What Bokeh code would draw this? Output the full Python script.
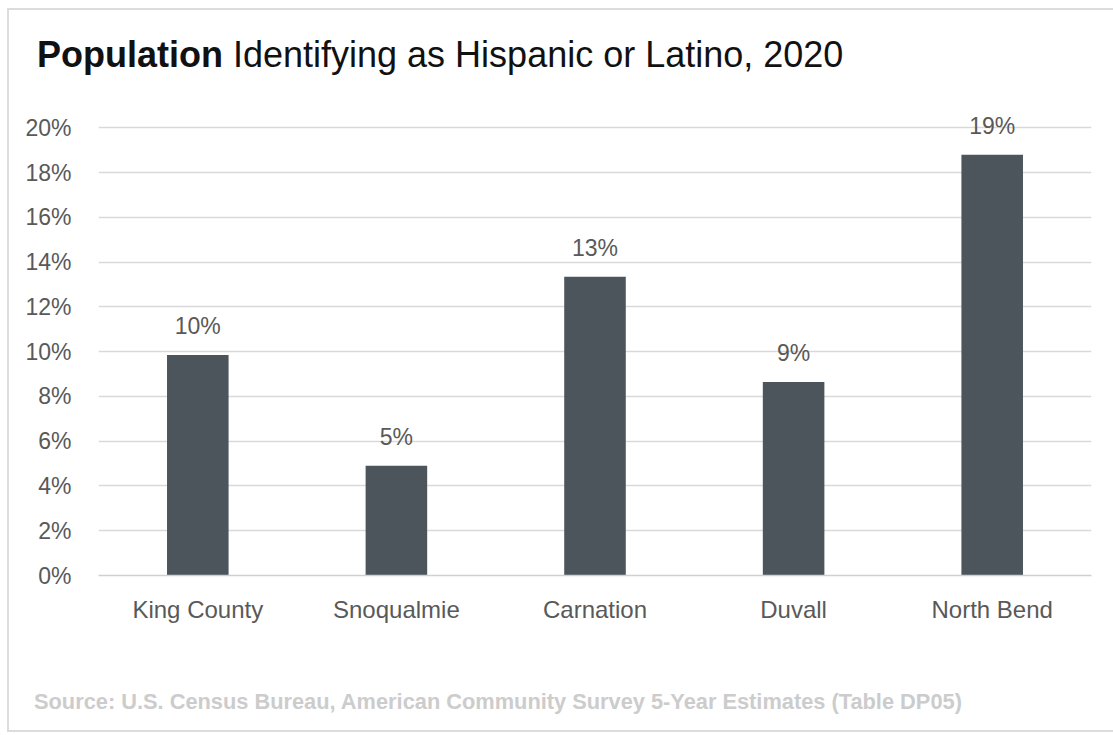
from bokeh.plotting import figure
from bokeh.models import ColumnDataSource, LabelSet, Range1d, FixedTicker, CustomJSTickFormatter, Div
from bokeh.layouts import column
from bokeh.core.properties import value
from bokeh.embed import file_html
from bokeh.resources import INLINE

categories = ["King County", "Snoqualmie", "Carnation", "Duvall", "North Bend"]
values = [9.85, 4.9, 13.35, 8.65, 18.8]
labels = [f"{round(v)}%" for v in values]
y_ticks = [0, 2, 4, 6, 8, 10, 12, 14, 16, 18, 20]
title_bold = "Population"
title_rest = "Identifying as Hispanic or Latino, 2020"
source_text = "Source: U.S. Census Bureau, American Community Survey 5-Year Estimates (Table DP05)"

FONT = "Liberation Sans"
INNER_W = 1095

src = ColumnDataSource(dict(cat=categories, val=values, lab=labels))

title_div = Div(
    text=f'<div style="font-family:\'{FONT}\'; font-size:36px; line-height:40px; color:#111111; '
         f'padding-top:20px; padding-left:23px; white-space:nowrap;">'
         f'<b>{title_bold}</b> {title_rest}</div>',
    width=INNER_W, height=80)

p = figure(x_range=categories, y_range=Range1d(0, 21), width=INNER_W, height=550,
           output_backend="svg", toolbar_location=None,
           min_border_left=89, min_border_right=13, min_border_top=5, min_border_bottom=75)
p.x_range.range_padding = 0
p.background_fill_color = "white"
p.border_fill_color = "white"
p.outline_line_color = None

p.vbar(x="cat", top="val", width=0.31, source=src, fill_color="#4b555b", line_color=None)

p.add_layout(LabelSet(x="cat", y="val", text="lab", source=src, y_offset=21,
                      text_align="center", text_baseline="alphabetic",
                      text_font=value(FONT), text_font_size="23px", text_color="#595959"))

p.xgrid.grid_line_color = None
p.ygrid.grid_line_color = "#d9d9d9"
p.ygrid.grid_line_width = 1.5
p.yaxis.ticker = FixedTicker(ticks=y_ticks)
p.yaxis.formatter = CustomJSTickFormatter(code="return tick + '%';")
p.yaxis.axis_line_color = None
p.yaxis.major_tick_line_color = None
p.yaxis.minor_tick_line_color = None
p.yaxis.major_tick_out = 0
p.yaxis.major_label_standoff = 27
p.yaxis.major_label_text_font = FONT
p.yaxis.major_label_text_font_size = "23px"
p.yaxis.major_label_text_color = "#595959"

p.xaxis.axis_line_color = "#d0d0d0"
p.xaxis.axis_line_width = 1.5
p.xaxis.major_tick_line_color = None
p.xaxis.minor_tick_line_color = None
p.xaxis.major_tick_out = 0
p.xaxis.major_label_standoff = 20
p.xaxis.major_label_text_font = FONT
p.xaxis.major_label_text_font_size = "24px"
p.xaxis.major_label_text_color = "#595959"

source_div = Div(
    text=f'<div style="font-family:\'{FONT}\'; font-size:21.8px; font-weight:bold; line-height:24px; '
         f'color:#cccccc; padding-top:35px; padding-left:20px; white-space:nowrap;">{source_text}</div>',
    width=INNER_W, height=70)

layout = column(title_div, p, source_div, spacing=0,
                styles={"border": "2px solid #dcdcdc", "margin-left": "7px", "margin-top": "8px",
                        "background-color": "white"})

open("out.html", "w").write(file_html(layout, INLINE))
